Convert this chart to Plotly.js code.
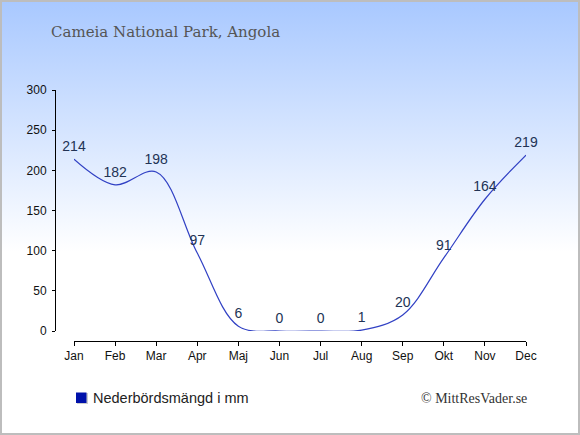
<!DOCTYPE html>
<html>
<head>
<meta charset="utf-8">
<script src="https://cdn.plot.ly/plotly-3.0.1.min.js"></script>
<style>
html,body{margin:0;padding:0;}
#wrap{position:relative;width:580px;height:435px;background:linear-gradient(to bottom,#a8c8ff 0%,#ffffff 58%,#ffffff 100%);}
#chart{position:absolute;left:0;top:0;width:580px;height:435px;}
#frame{position:absolute;left:0;top:0;width:580px;height:435px;box-sizing:border-box;border:2px solid #bdbdbd;pointer-events:none;}
</style>
</head>
<body>
<div id="wrap"><div id="chart"></div><div id="frame"></div></div>
<script>
var months = ["Jan","Feb","Mar","Apr","Maj","Jun","Jul","Aug","Sep","Okt","Nov","Dec"];
var precipitation = [214,182,198,97,6,0,0,1,20,91,164,219];
var yTicks = [0,50,100,150,200,250,300];
var chartTitle = "Cameia National Park, Angola";
var legendLabel = "Nederbördsmängd i mm";
var watermark = "© MittResVader.se";

var W = 580, H = 435;
var L = 55, R = 54, T = 90, B = 94;
var plotW = W - L - R, plotH = H - T - B;
var xStart = (74 - L) / plotW;
var yStart = 10 / plotH;

var trace = {
  x: months.map(function(m, i){ return i; }),
  y: precipitation,
  mode: "lines+markers+text",
  marker: {size: 6, opacity: 0},
  text: precipitation.map(String),
  textposition: "top center",
  textfont: {family: "Liberation Sans, Arial, sans-serif", size: 14, color: "#223355"},
  line: {color: "#3141c4", width: 1.2, shape: "spline", smoothing: 1},
  cliponaxis: false,
  hoverinfo: "none",
  showlegend: false
};

var layout = {
  width: W, height: H,
  margin: {l: L, r: R, t: T, b: B, pad: 0},
  paper_bgcolor: "rgba(0,0,0,0)",
  plot_bgcolor: "rgba(0,0,0,0)",
  showlegend: false,
  title: {
    text: chartTitle,
    xref: "container", yref: "container",
    x: 51 / W, xanchor: "left",
    y: 1 - 32 / H, yanchor: "middle",
    font: {family: "DejaVu Serif, serif", size: 15, color: "#555555"}
  },
  xaxis: {
    domain: [xStart, 1],
    anchor: "free", position: 0,
    range: [0, 11],
    tickmode: "array",
    tickvals: months.map(function(m, i){ return i; }),
    ticktext: months,
    showgrid: false, zeroline: false,
    showline: true, linecolor: "#000", linewidth: 1,
    ticks: "outside", ticklen: 4, tickcolor: "#000",
    tickfont: {family: "Liberation Sans, Arial, sans-serif", size: 12, color: "#111"},
    fixedrange: true
  },
  yaxis: {
    domain: [yStart, 1],
    anchor: "free", position: 0,
    range: [0, 300],
    tickmode: "array",
    tickvals: yTicks,
    ticktext: yTicks.map(String),
    showgrid: false, zeroline: false,
    showline: true, linecolor: "#000", linewidth: 1,
    ticks: "outside", ticklen: 3, tickcolor: "#000",
    ticklabelstandoff: 3,
    tickfont: {family: "Liberation Sans, Arial, sans-serif", size: 12, color: "#111"},
    fixedrange: true
  },
  shapes: [
    {type: "rect", xref: "paper", yref: "paper",
     x0: (77 - L) / plotW, x1: (88 - L) / plotW,
     y0: (H - B - 404) / plotH, y1: (H - B - 393) / plotH,
     fillcolor: "#cccccc", line: {width: 0}},
    {type: "rect", xref: "paper", yref: "paper",
     x0: (76 - L) / plotW, x1: (86.5 - L) / plotW,
     y0: (H - B - 403) / plotH, y1: (H - B - 392.5) / plotH,
     fillcolor: "#0011aa", line: {width: 0}}
  ],
  annotations: [
    {text: legendLabel, xref: "paper", yref: "paper",
     x: (91 - L) / plotW, y: (H - B - 398) / plotH,
     xanchor: "left", yanchor: "middle", showarrow: false,
     font: {family: "Liberation Sans, Arial, sans-serif", size: 14.5, color: "#222"}},
    {text: watermark, xref: "paper", yref: "paper",
     x: (529 - L) / plotW, y: (H - B - 398) / plotH,
     xanchor: "right", yanchor: "middle", showarrow: false,
     font: {family: "Liberation Serif, serif", size: 14, color: "#333"}}
  ]
};

Plotly.newPlot("chart", [trace], layout, {staticPlot: true, displayModeBar: false});
</script>
</body>
</html>
